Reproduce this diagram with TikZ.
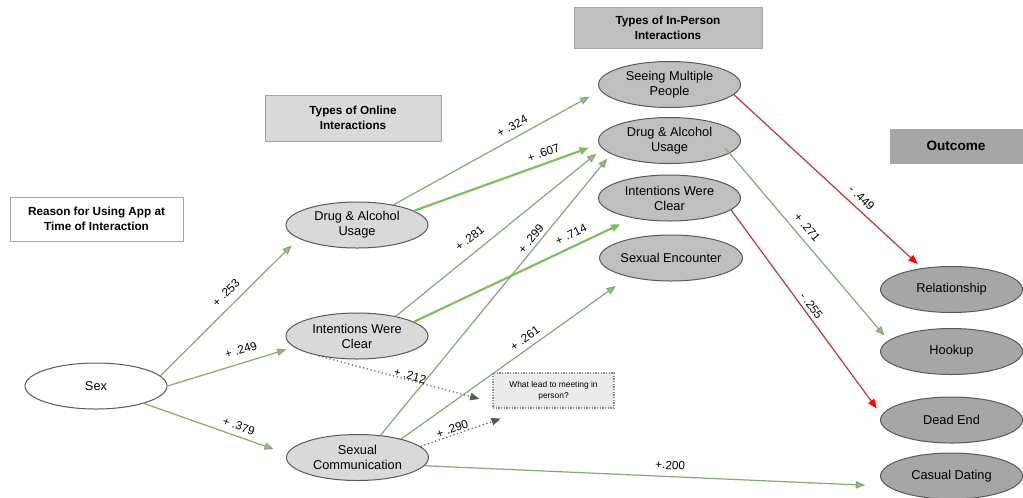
\documentclass[tikz,border=0pt]{standalone}
\usepackage{fontspec}
\setmainfont{Liberation Sans}
\usetikzlibrary{shapes.geometric,arrows.meta,calc}
\definecolor{onl}{HTML}{D9D9D9}
\definecolor{inp}{HTML}{BFBFBF}
\definecolor{outc}{HTML}{A6A6A6}
\definecolor{lnk}{HTML}{89A67A}
\definecolor{lnkb}{HTML}{7DBE5E}
\definecolor{neg}{HTML}{B8373A}
\begin{document}
\begin{tikzpicture}[x=0.75pt,y=-0.75pt,
    oval/.style={ellipse,draw=black!65,line width=0.75pt,minimum width=106.5pt,
      minimum height=34.5pt,inner sep=0pt,align=center,font=\fontsize{9.6}{11.25}\selectfont},
    hdr/.style={rectangle,draw=black!35,line width=0.75pt,inner sep=0pt,align=center,
      font=\bfseries\fontsize{8.8}{11.25}\selectfont},
    lab/.style={font=\fontsize{8.8}{10}\selectfont,sloped,inner sep=1pt},
    garrow/.style={draw=lnk,line width=0.9pt,-{Triangle[length=7pt,width=5.5pt,fill=lnk!80!white]}},
    wide/.style={garrow,draw=lnkb,line width=1.6pt},
    rarrow/.style={draw=neg,line width=0.9pt,-{Triangle[length=7pt,width=5.5pt,color=red,fill=red]}},
    darrow/.style={draw=black!65,line width=0.9pt,dotted,-{Triangle[length=7pt,width=5.5pt]}}]
  \useasboundingbox (0,0) rectangle (1023,497);
  \node[hdr,fill=white,minimum width=129.75pt,minimum height=33pt] (reason) at (96.5,219)
    {Reason for Using App at\\Time of Interaction};
  \node[hdr,fill=onl,minimum width=132pt,minimum height=34.5pt] (online) at (353,118)
    {Types of Online\\Interactions};
  \node[hdr,fill=inp,minimum width=141pt,minimum height=30.75pt] (inperson) at (668,27.5)
    {Types of In-Person\\Interactions};
  \node[hdr,fill=outc,minimum width=99pt,minimum height=25.5pt,
    font=\bfseries\fontsize{10.2}{12}\selectfont] (outcome) at (956,146) {Outcome};
  \node[draw=black!45,densely dotted,line width=1pt,fill=black!8,minimum width=90.75pt,
    minimum height=26.25pt,inner sep=0pt,align=center,font=\fontsize{6.3}{8}\selectfont]
    (meet) at (553.5,390.5) {What lead to meeting in\\person?};
  \node[oval,fill=white] (sex) at (96,386) {Sex};
  \node[oval,fill=onl] (drugon) at (357,225) {Drug \& Alcohol\\Usage};
  \node[oval,fill=onl] (inton) at (357,336) {Intentions Were\\Clear};
  \node[oval,fill=onl] (comm) at (357.5,457.5) {Sexual\\Communication};
  \node[oval,fill=inp] (multi) at (669.5,84.5) {Seeing Multiple\\People};
  \node[oval,fill=inp] (druginp) at (669.5,140.5) {Drug \& Alcohol\\Usage};
  \node[oval,fill=inp] (intinp) at (669.5,198) {Intentions Were\\Clear};
  \node[oval,fill=inp] (enc) at (671,258) {Sexual Encounter};
  \node[oval,fill=outc] (rel) at (951.5,289.5) {Relationship};
  \node[oval,fill=outc] (hook) at (951.5,351.5) {Hookup};
  \node[oval,fill=outc] (dead) at (951.5,420) {Dead End};
  \node[oval,fill=outc] (casual) at (951.5,476) {Casual Dating};
  \draw[garrow,shorten >=7.2pt] (sex.9) -- node[lab,pos=.54,above=5pt] {+ .253} (drugon.193);
  \draw[garrow,shorten >=6pt] (sex.0) -- node[lab,pos=.61,above=5pt] {+ .249} (inton.190);
  \draw[garrow,shorten >=10.5pt] (sex.340) -- node[lab,pos=.64,above=3pt] {+ .379} (comm.177);
  \draw[garrow,shorten >=9.4pt] (drugon.29) -- node[lab,pos=.6,above=4pt] {+ .324} (multi.185);
  \draw[wide,shorten >=8pt] (drugon.14) -- node[lab,pos=.72,above=3pt] {+ .607} (druginp.183);
  \draw[garrow,shorten >=5.9pt] (inton.27) -- node[lab,pos=.4,above=6pt] {+ .281} (druginp.187);
  \draw[garrow,shorten >=4.5pt] (comm.44) -- node[lab,pos=.68,above=1.5pt] {+ .299} (druginp.193);
  \draw[wide,shorten >=10.5pt] (inton.14) -- node[lab,pos=.74,above=4pt] {+ .714} (intinp.209);
  \draw[garrow,shorten >=11.6pt] (comm.23) -- node[lab,pos=.57,above=3pt] {+ .261} (enc.204);
  \draw[garrow,shorten >=16.5pt] (comm.353) -- node[lab,pos=.53,above=4pt] {+.200} (casual.189);
  \draw[garrow,shorten >=4.7pt] ($(druginp.center)+(55.5,7.5)$) -- node[lab,pos=.45,above=4pt] {+ .271} (hook.170);
  \draw[rarrow,shorten >=4.5pt] (multi.351) -- node[lab,pos=.64,above=3.5pt] {- .449} (rel.144);
  \draw[rarrow,shorten >=6.2pt] (intinp.349) -- node[lab,pos=.49,above=1.5pt] {- .255} (dead.176);
  \draw[darrow,shorten >=10pt] (inton.207) -- node[lab,pos=.52,above=-1pt] {+ .212} (meet.191);
  \draw[darrow,shorten >=22.7pt] (comm.10) -- node[lab,pos=.31,above=0pt] {+ .290} (meet.217);
\end{tikzpicture}
\end{document}
